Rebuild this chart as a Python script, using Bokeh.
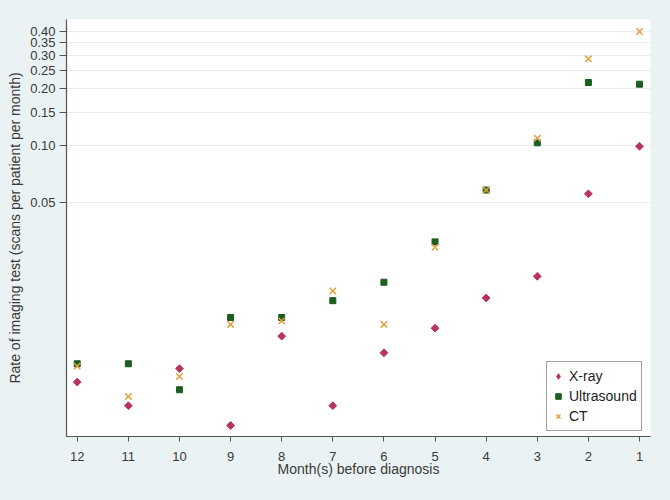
import math
from bokeh.plotting import figure
from bokeh.models import Range1d, FixedTicker, NumeralTickFormatter, Legend
from bokeh.embed import file_html
from bokeh.resources import INLINE

months = [12, 11, 10, 9, 8, 7, 6, 5, 4, 3, 2, 1]
xray = [0.0056, 0.0042, 0.0066, 0.0033, 0.0098, 0.0042, 0.0080, 0.0108, 0.0156, 0.0203, 0.0555, 0.099]
ultrasound = [0.0070, 0.0070, 0.0051, 0.0123, 0.0123, 0.0151, 0.0189, 0.0309, 0.0581, 0.1033, 0.2154, 0.211]
ct = [0.0068, 0.0047, 0.0060, 0.0113, 0.0118, 0.0170, 0.0113, 0.0289, 0.0581, 0.1093, 0.2875, 0.401]
y_ticks = [0.05, 0.10, 0.15, 0.20, 0.25, 0.30, 0.35, 0.40]
x_ticks = [12, 11, 10, 9, 8, 7, 6, 5, 4, 3, 2, 1]

BG = "#eaf2f3"
FONT = "Liberation Sans"
TXT = "#3a3a3a"
AX = "#555555"
C_X = "#b9335c"
C_US = "#1b5e20"
C_CT = "#e3a040"

p = figure(width=670, height=500, y_axis_type="log",
           x_range=Range1d(12.21, 0.785), y_range=Range1d(0.002886, 0.464),
           output_backend="svg", toolbar_location=None,
           min_border_left=66, min_border_top=19, min_border_right=20, min_border_bottom=64)

p.background_fill_color = "white"
p.border_fill_color = BG
p.outline_line_color = None

p.xgrid.grid_line_color = None
p.ygrid.grid_line_color = "#e6eef0"
p.ygrid.grid_line_width = 1
p.ygrid.ticker = FixedTicker(ticks=y_ticks)

p.yaxis.ticker = FixedTicker(ticks=y_ticks)
p.yaxis.formatter = NumeralTickFormatter(format="0.00")
p.yaxis.minor_tick_line_color = None
p.yaxis.major_tick_out = 7
p.yaxis.major_tick_in = 0
p.yaxis.major_label_standoff = 4
p.yaxis.axis_label = "Rate of imaging test (scans per patient per month)"
p.yaxis.axis_label_standoff = 4

p.xaxis.ticker = FixedTicker(ticks=x_ticks)
p.xaxis.minor_tick_line_color = None
p.xaxis.major_tick_out = 5
p.xaxis.major_tick_in = 0
p.xaxis.major_label_standoff = 10
p.xaxis.axis_label = "Month(s) before diagnosis"
p.xaxis.axis_label_standoff = -3

for ax in (p.xaxis[0], p.yaxis[0]):
    ax.axis_line_color = AX
    ax.axis_line_width = 1.2
    ax.major_tick_line_color = AX
    ax.major_label_text_font = FONT
    ax.major_label_text_font_size = "13px"
    ax.major_label_text_color = TXT
    ax.axis_label_text_font = FONT
    ax.axis_label_text_font_size = "14px"
    ax.axis_label_text_font_style = "normal"
    ax.axis_label_text_color = TXT

p.scatter(months, xray, marker="square", size=5.5, angle=math.pi / 4,
          fill_color=C_X, line_color=C_X)
r2 = p.scatter(months, ultrasound, marker="square", size=6, fill_color=C_US, line_color=C_US)
r3 = p.scatter(months, ct, marker="x", size=9, line_color=C_CT, line_width=1.5)
# hidden twin renderer, used only so the legend key is drawn as a diamond
r1 = p.scatter(months, xray, marker="diamond", size=9, fill_color=C_X, line_color=C_X,
               visible=False)

legend = Legend(items=[("X-ray", [r1]), ("Ultrasound", [r2]), ("CT", [r3])],
                location=(480, 5))
legend.label_text_font = FONT
legend.label_text_font_size = "14px"
legend.label_text_color = "#222222"
legend.border_line_color = "#444444"
legend.border_line_width = 1
legend.background_fill_color = "white"
legend.background_fill_alpha = 1
legend.inactive_fill_alpha = 0
legend.padding = 4
legend.spacing = 0
legend.label_height = 20
legend.glyph_height = 20
legend.glyph_width = 14
legend.label_standoff = 4
legend.margin = 0
p.add_layout(legend, "center")

html = file_html(p, INLINE)
html = html.replace("<head>", "<head><style>body{background:%s;}</style>" % BG, 1)
open("out.html", "w").write(html)
